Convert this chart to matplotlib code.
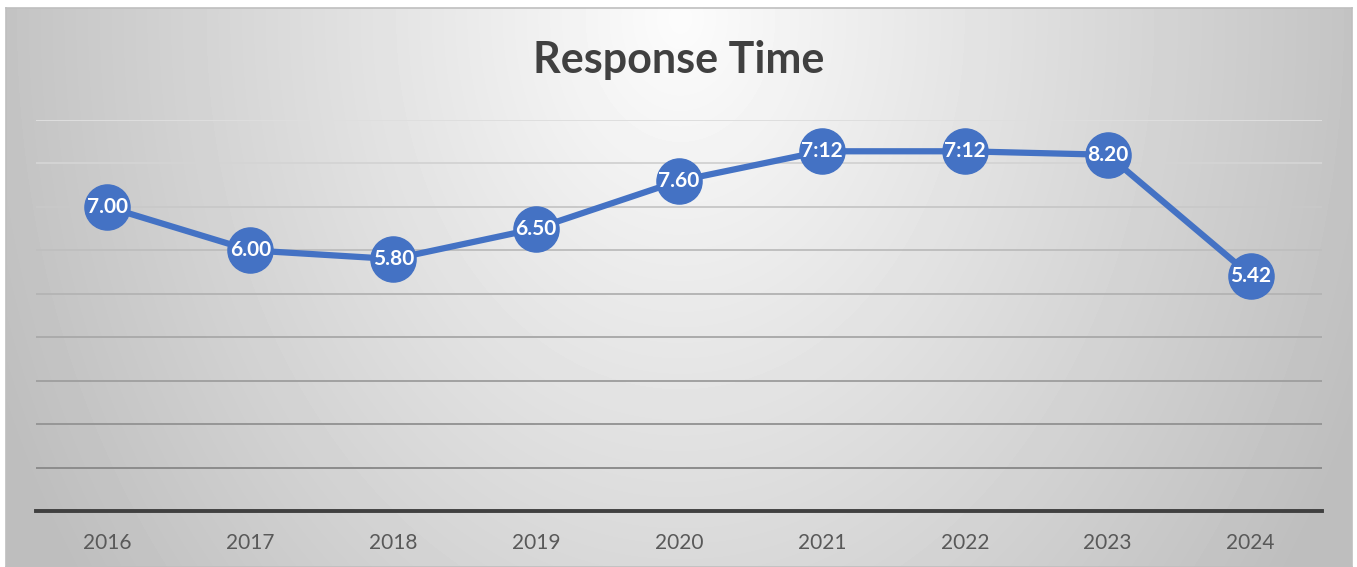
import numpy as np
import matplotlib
matplotlib.use("Agg")
import matplotlib.pyplot as plt

# chart data
years = ["2016", "2017", "2018", "2019", "2020", "2021", "2022", "2023", "2024"]
values = [7.00, 6.00, 5.80, 6.50, 7.60, 8.28, 8.28, 8.20, 5.42]
labels = ["7.00", "6.00", "5.80", "6.50", "7.60", "7:12", "7:12", "8.20", "5.42"]

plt.rcParams['font.family'] = ['Lato', 'DejaVu Sans']

W, H = 1357, 567
fig = plt.figure(figsize=(W / 100, H / 100), dpi=100)
fig.patch.set_facecolor("white")

# radial gradient background of the chart area
bg = fig.add_axes([6 / W, 0, 1346 / W, (H - 8) / H])
yy, xx = np.mgrid[0:559, 0:1346]
d = np.sqrt(((xx - 674) / 690.0) ** 2 + ((yy - 10) / 900.0) ** 2)
shade = np.clip(252 - 58 * d, 190, 252) / 255.0
bg.imshow(shade, cmap="gray", vmin=0, vmax=1, aspect="auto", interpolation="bilinear")
bg.set_xticks([])
bg.set_yticks([])
for s in bg.spines.values():
    s.set_color("#bfbfbf")
    s.set_linewidth(1.2)

ax = fig.add_axes([36 / W, (H - 511) / H, 1286 / W, (511 - 120) / H])
ax.patch.set_alpha(0)
x = np.arange(len(years))
ax.set_xlim(-0.5, len(years) - 0.5)
ax.set_ylim(0, 9)

# gridlines, fainter towards the top
for lv in range(1, 10):
    t = (lv - 1) / 8.0
    c = 0.55 + 0.32 * t
    ax.axhline(lv, color=(c, c, c), linewidth=1.4, zorder=1)

ax.plot(x, values, color="#4472C4", linewidth=4.5, marker="o",
        markersize=32.5, markerfacecolor="#4472C4", markeredgecolor="#4472C4",
        zorder=3, solid_capstyle="round")
for xi, v, lab in zip(x, values, labels):
    ax.text(xi, v, lab, ha="center", va="center", color="white",
            fontsize=15, fontweight="bold", zorder=4)

ax.set_yticks([])
ax.set_xticks(x)
ax.set_xticklabels(years, fontsize=15, color="#595959")
ax.tick_params(axis="x", length=0, pad=16)
for s in ["top", "right", "left"]:
    ax.spines[s].set_visible(False)
ax.spines["bottom"].set_color("#404040")
ax.spines["bottom"].set_linewidth(2.8)

fig.text(679 / W, 1 - 60 / H, "Response Time", ha="center", va="center",
         fontsize=31, fontweight="bold", color="#404040")

fig.savefig("out.png", dpi=100)
